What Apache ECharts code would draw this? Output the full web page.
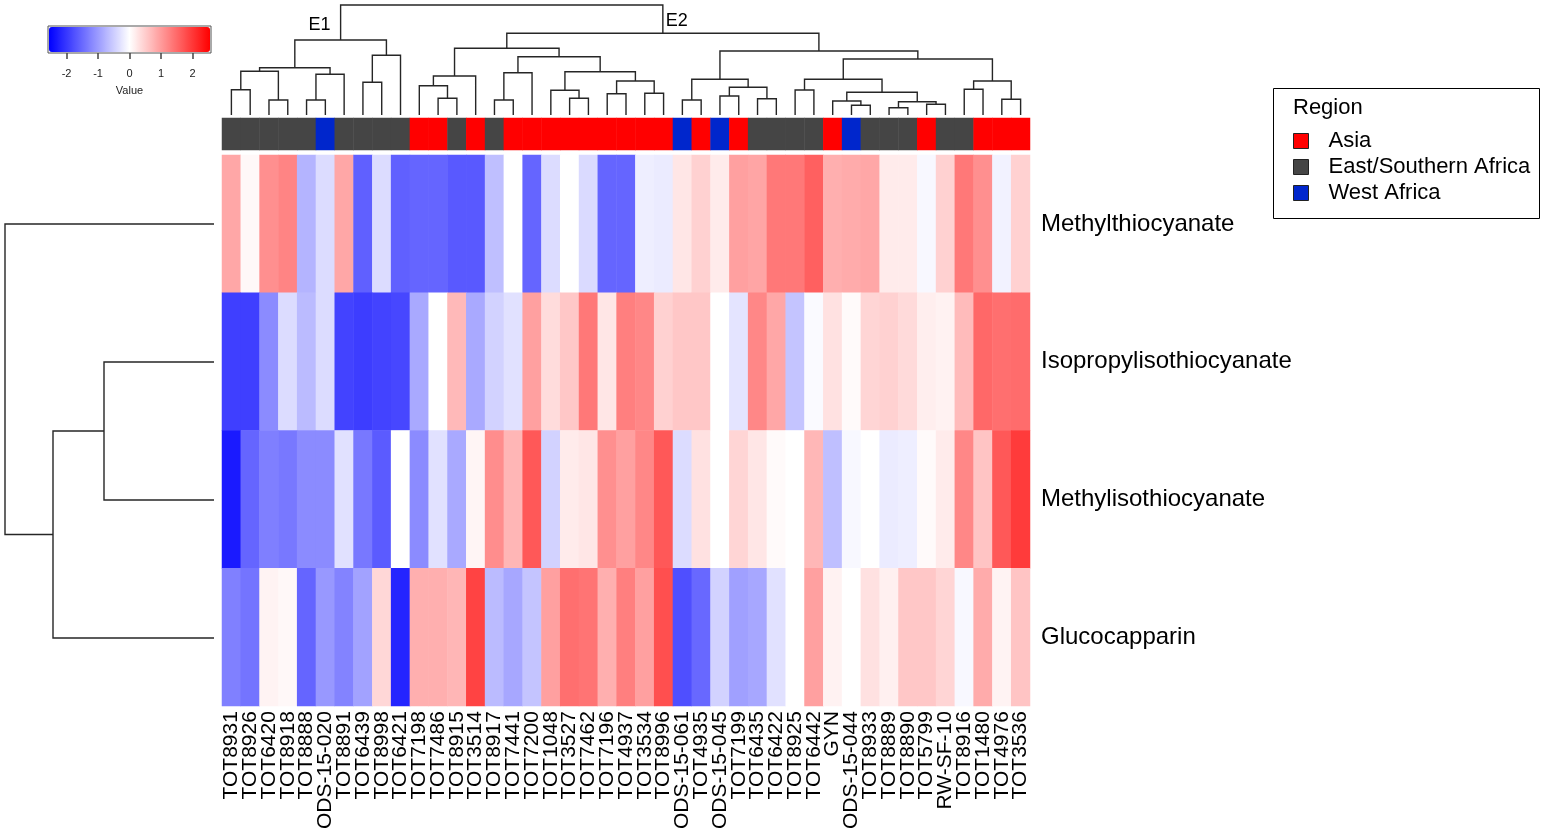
<!DOCTYPE html>
<html>
<head>
<meta charset="utf-8">
<script src="https://cdn.jsdelivr.net/npm/echarts@6/dist/echarts.min.js"></script>
<style>html,body{margin:0;padding:0;background:#fff}#c{width:1545px;height:832px}</style>
</head>
<body>
<div id="c"></div>
<script>
// ---------- DATA ----------
const colNames = ['TOT8931','TOT8926','TOT6420','TOT8918','TOT8888','ODS-15-020','TOT8891','TOT6439','TOT8998','TOT6421',
  'TOT7198','TOT7486','TOT8915','TOT3514','TOT8917','TOT7441','TOT7200','TOT1048','TOT3527','TOT7462','TOT7196','TOT4937',
  'TOT3534','TOT8996','ODS-15-061','TOT4935','ODS-15-045','TOT7199','TOT6435','TOT6422','TOT8925','TOT6442','GYN',
  'ODS-15-044','TOT8933','TOT8889','TOT8890','TOT5799','RW-SF-10','TOT8916','TOT1480','TOT4976','TOT3536'];
const rowNames = ['Methylthiocyanate','Isopropylisothiocyanate','Methylisothiocyanate','Glucocapparin'];

const methylthiocyanate = [0.88,0.07,1.12,1.23,-0.75,-0.35,0.88,-1.6,-0.35,-1.6,-1.55,-1.55,-1.67,-1.67,-0.64,0.0,-1.55,-0.35,0.0,-0.37,-1.55,-1.55,-0.17,-0.2,0.25,0.46,0.2,0.95,0.9,1.36,1.36,1.6,0.8,0.84,0.88,0.2,0.2,-0.07,0.46,1.36,1.12,-0.13,0.46];
const isopropylisothiocyanate = [-1.93,-1.93,-1.16,-0.35,-0.68,-0.35,-1.89,-1.95,-1.89,-1.85,-0.86,0.0,0.7,-0.86,-0.45,-0.3,0.95,0.35,0.56,1.36,0.25,1.29,1.2,0.46,0.56,0.56,0.0,-0.27,1.2,0.88,-0.59,-0.05,0.3,0.05,0.42,0.46,0.37,0.17,0.13,0.68,1.52,1.45,1.48];
const methylisothiocyanate = [-2.3,-1.55,-1.29,-1.36,-1.16,-1.16,-0.3,-1.36,-1.65,0.0,-1.16,-0.3,-0.86,0.1,1.14,0.73,1.68,-0.45,0.2,0.25,1.12,0.95,1.2,1.68,-0.35,0.3,0.0,0.42,0.25,0.05,0.0,0.72,-0.64,-0.07,0.0,-0.2,-0.17,0.05,0.2,1.2,0.59,1.68,1.97];
const glucocapparin = [-1.28,-1.4,0.12,0.07,-1.55,-1.03,-1.24,-0.93,0.4,-2.2,0.8,0.8,0.73,1.89,-0.68,-0.88,-0.59,0.95,1.45,1.4,0.8,1.29,0.95,1.77,-1.77,-1.52,-0.45,-0.95,-0.88,-0.3,0.0,0.95,0.13,0.0,0.3,0.15,0.56,0.56,0.42,-0.07,0.84,0.12,0.59];

const regionNames = ['Asia','East/Southern Africa','West Africa'];
const regions = ['E','E','E','E','E','W','E','E','E','E','A','A','E','A','E','A','A','A','A','A','A','A','A','A',
  'W','A','W','A','E','E','E','E','A','W','E','E','E','A','E','E','A','A','A'];

// hclust-style merges (negative = leaf in display order, positive = earlier merge)
const colMerge = [[-1,-2],[-3,-4],[1,2],[-5,-6],[4,-7],[3,5],[-8,-9],[7,-10],[6,8],
  [-12,-13],[-11,10],[11,-14],[-15,-16],[13,-17],[-19,-20],[-18,15],[-21,-22],[-23,-24],[17,18],[16,19],[14,20],[12,21],
  [-25,-26],[-27,-28],[-29,-30],[24,25],[23,26],[-31,-32],[-34,-35],[-33,29],[-36,-37],[-38,-39],[31,32],[30,33],[28,34],
  [-40,-41],[-42,-43],[36,37],[35,38],[27,39],[22,40],[9,41]];
const colHeight = [2.53,1.5,4.37,1.5,4.07,4.73,3.27,5.97,7.5,
  1.67,2.93,3.9,1.5,4.23,1.67,2.47,2.13,2.17,3.4,4.33,5.83,6.67,
  1.5,1.9,1.63,2.77,3.57,2.5,0.97,1.4,0.73,1.07,1.33,2.27,3.57,
  2.57,1.57,3.4,5.6,6.4,8.17,11.0];
const clusterLabels = [{text:'E1', merge:9, side:'left'},{text:'E2', merge:41, side:'right'}];

const rowMerge = [[-2,-3],[-4,1],[-1,2]];
const rowHeight = [11.0,16.1,20.9];

const keyTicks = [-2,-1,0,1,2];

// ---------- BUILD ----------
function buildTree(merge, heights){
  const pos = [], segs = [];
  const getP = id => id < 0 ? [-id-1, 0] : pos[id-1];
  merge.forEach((m,k)=>{
    const a = getP(m[0]), b = getP(m[1]), h = heights[k];
    pos.push([(a[0]+b[0])/2, h]);
    segs.push([a[0], a[1], b[0], b[1], h]);
  });
  return {pos, segs};
}
const colTree = buildTree(colMerge, colHeight);
const rowTree = buildTree(rowMerge, rowHeight);

const rowsData = [methylthiocyanate, isopropylisothiocyanate, methylisothiocyanate, glucocapparin];
const heatData = [];
rowsData.forEach((arr,r)=>arr.forEach((v,c)=>heatData.push([c,r,v])));
const regionCode = {A:0,E:1,W:2};
const annotData = regions.map((g,c)=>[c,0,regionCode[g]]);
const regionColors = ['#FF0000','#454545','#0026CC'];

const FONT = "'Liberation Sans', Arial, Helvetica, sans-serif";
const LINE = '#262626';

const chart = echarts.init(document.getElementById('c'), null, {renderer:'canvas'});
const HM = {left:222, top:155, width:808, height:552};

const option = {
  backgroundColor:'#fff',
  animation:false,
  textStyle:{fontFamily:FONT},
  title:{text:'Region', left:1293, top:97, padding:0,
    textStyle:{fontFamily:FONT, fontSize:22, fontWeight:'normal', color:'#000'}},
  legend:{
    orient:'vertical', left:1293, top:128, padding:0, itemGap:0,
    itemWidth:15, itemHeight:15, icon:'rect', selectedMode:false,
    itemStyle:{borderColor:'#222', borderWidth:1, opacity:1},
    textStyle:{fontFamily:FONT, fontSize:22, color:'#000', lineHeight:26, padding:[0,0,0,15]},
    data:regionNames
  },
  graphic:[{type:'rect', shape:{x:1273.5, y:88.5, width:266, height:130}, style:{fill:null, stroke:'#000', lineWidth:1}, silent:true}],
  grid:[
    {...HM},                                             // 0 heatmap
    {left:222, top:118, width:808, height:32},           // 1 annotation
    {left:222, top:5, width:808, height:110},            // 2 col dendrogram
    {left:5, top:155, width:209, height:552},            // 3 row dendrogram
    {left:48, top:26, width:163, height:27, show:true, borderColor:'#555', borderWidth:1, backgroundColor:'transparent'} // 4 key
  ],
  xAxis:[
    {gridIndex:0, type:'category', data:colNames, position:'bottom',
      axisLine:{show:false}, axisTick:{show:false},
      axisLabel:{rotate:90, interval:0, margin:5, fontSize:21, color:'#000', fontFamily:FONT}},
    {gridIndex:1, type:'category', data:colNames, show:false},
    {gridIndex:2, type:'value', min:-0.5, max:colNames.length-0.5, show:false},
    {gridIndex:3, type:'value', min:0, max:rowHeight[rowHeight.length-1], inverse:true, show:false},
    {gridIndex:4, type:'value', min:-2.59, max:2.59, position:'bottom',
      axisLine:{show:false}, splitLine:{show:false},
      axisTick:{show:true, customValues:keyTicks, length:6, lineStyle:{color:'#444', width:1.5}},
      axisLabel:{customValues:keyTicks, fontSize:11, color:'#222', margin:15, fontFamily:FONT},
      name:'Value', nameLocation:'middle', nameGap:32, nameTextStyle:{fontSize:11, color:'#222', fontFamily:FONT}}
  ],
  yAxis:[
    {gridIndex:0, type:'category', data:rowNames, inverse:true, position:'right',
      axisLine:{show:false}, axisTick:{show:false},
      axisLabel:{fontSize:24, color:'#000', margin:11, padding:[3,0,0,0], fontFamily:FONT}},
    {gridIndex:1, type:'category', data:['Region'], show:false},
    {gridIndex:2, type:'value', min:0, max:colHeight[colHeight.length-1], show:false},
    {gridIndex:3, type:'value', min:-0.5, max:rowNames.length-0.5, inverse:true, show:false},
    {gridIndex:4, type:'value', min:0, max:1, show:false}
  ],
  visualMap:[
    {type:'continuous', seriesIndex:0, min:-2.56, max:2.56, orient:'horizontal',
      left:49, top:27, itemWidth:25, itemHeight:161, padding:0, calculable:false, hoverLink:false,
      text:null, inRange:{color:['#0000FF','#FFFFFF','#FF0000']}},
    {type:'piecewise', seriesIndex:1, show:false,
      pieces:regionColors.map((c,i)=>({value:i, color:c}))}
  ],
  series:[
    {type:'heatmap', xAxisIndex:0, yAxisIndex:0, data:heatData, silent:true, itemStyle:{borderWidth:0}},
    {type:'heatmap', xAxisIndex:1, yAxisIndex:1, data:annotData, silent:true},
    {type:'custom', xAxisIndex:2, yAxisIndex:2, data:colTree.segs, silent:true,
      renderItem:(p,api)=>{
        const xl=api.value(0), hl=api.value(1), xr=api.value(2), hr=api.value(3), h=api.value(4);
        return {type:'polyline', shape:{points:[api.coord([xl,hl]),api.coord([xl,h]),api.coord([xr,h]),api.coord([xr,hr])]},
          style:{stroke:LINE, lineWidth:1.4, fill:null}};
      }},
    {type:'custom', xAxisIndex:2, yAxisIndex:2, silent:true,
      data:clusterLabels.map(l=>colTree.pos[l.merge-1]),
      renderItem:(p,api)=>{
        const l = clusterLabels[p.dataIndex];
        const pt = api.coord([api.value(0), api.value(1)]);
        const left = l.side==='left';
        return {type:'text', x: pt[0] + (left ? -10 : 3), y: pt[1] - (left ? 15 : 12),
          style:{text:l.text, fontSize:18, fontFamily:FONT, fill:'#000', align:left?'right':'left', verticalAlign:'middle'}};
      }},
    {type:'custom', xAxisIndex:3, yAxisIndex:3, data:rowTree.segs, silent:true,
      renderItem:(p,api)=>{
        const yl=api.value(0), hl=api.value(1), yr=api.value(2), hr=api.value(3), h=api.value(4);
        return {type:'polyline', shape:{points:[api.coord([hl,yl]),api.coord([h,yl]),api.coord([h,yr]),api.coord([hr,yr])]},
          style:{stroke:LINE, lineWidth:1.4, fill:null}};
      }},
    ...regionNames.map((n,i)=>({type:'scatter', name:n, xAxisIndex:4, yAxisIndex:4, data:[], itemStyle:{color:regionColors[i], opacity:1}}))
  ]
};
chart.setOption(option);
</script>
</body>
</html>
